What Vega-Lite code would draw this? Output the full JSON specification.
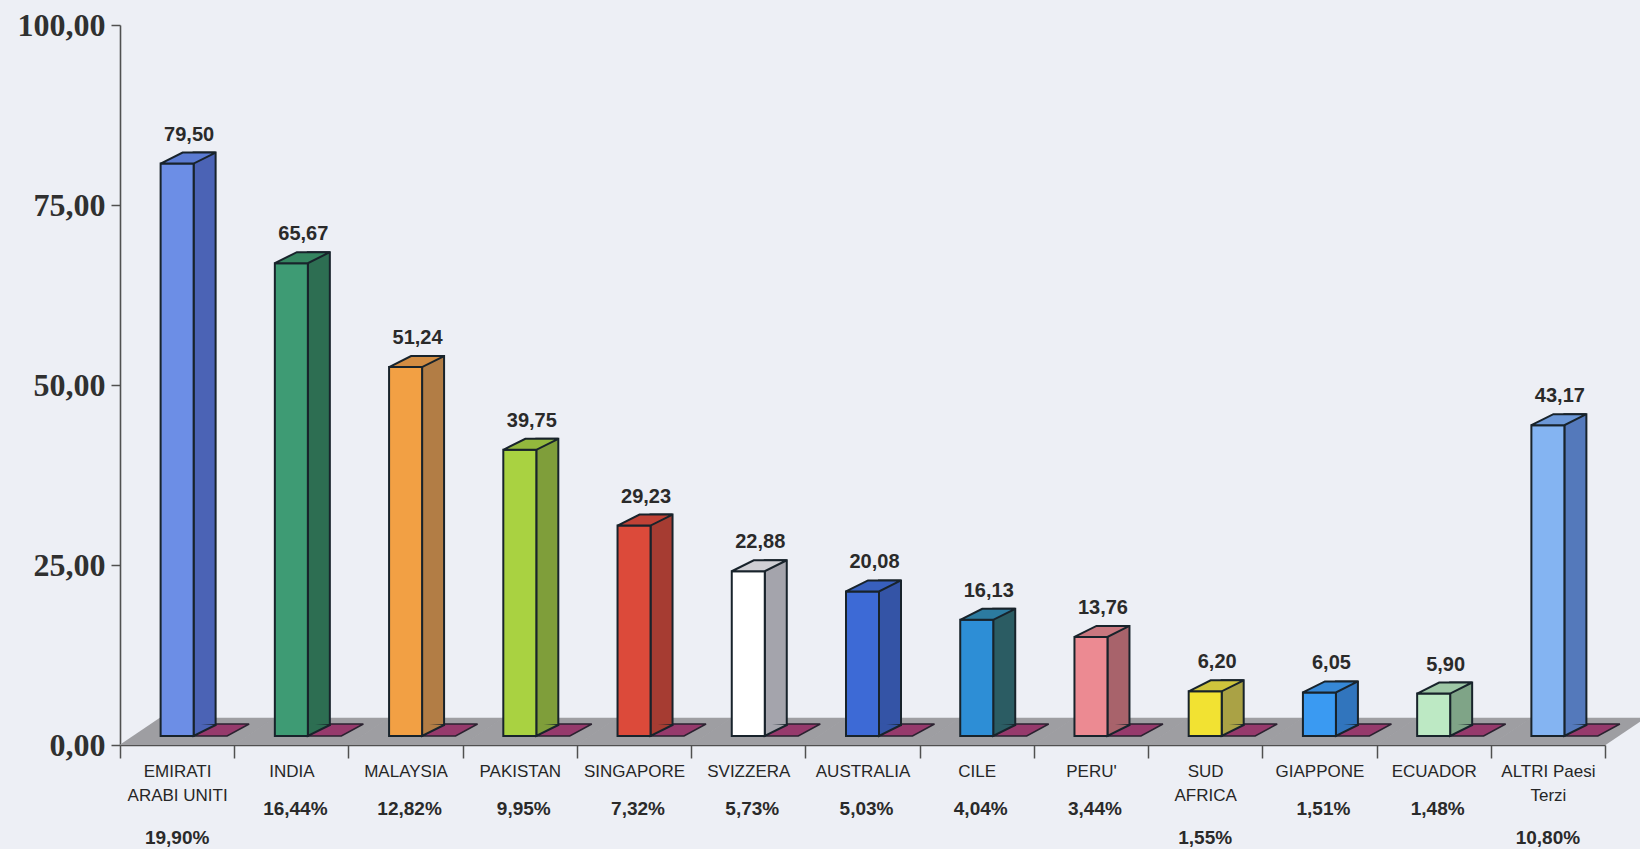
{
  "$schema": "https://vega.github.io/schema/vega-lite/v6.json",
  "width": 1485,
  "height": 720,
  "autosize": {"type": "none"},
  "padding": {"left": 120, "top": 25, "right": 35, "bottom": 104},
  "background": "#edeff5",
  "config": {
    "view": {"stroke": null},
    "axis": {"zindex": 1},
    "locale": {"number": {"decimal": ",", "thousands": ".", "grouping": [3], "currency": ["", " €"]}}
  },
  "data": {
    "values": [
      {"paese": "EMIRATI|ARABI UNITI", "valore": 79.50, "quota": 0.1990},
      {"paese": "INDIA", "valore": 65.67, "quota": 0.1644},
      {"paese": "MALAYSIA", "valore": 51.24, "quota": 0.1282},
      {"paese": "PAKISTAN", "valore": 39.75, "quota": 0.0995},
      {"paese": "SINGAPORE", "valore": 29.23, "quota": 0.0732},
      {"paese": "SVIZZERA", "valore": 22.88, "quota": 0.0573},
      {"paese": "AUSTRALIA", "valore": 20.08, "quota": 0.0503},
      {"paese": "CILE", "valore": 16.13, "quota": 0.0404},
      {"paese": "PERU'", "valore": 13.76, "quota": 0.0344},
      {"paese": "SUD|AFRICA", "valore": 6.20, "quota": 0.0155},
      {"paese": "GIAPPONE", "valore": 6.05, "quota": 0.0151},
      {"paese": "ECUADOR", "valore": 5.90, "quota": 0.0148},
      {"paese": "ALTRI Paesi|Terzi", "valore": 43.17, "quota": 0.1080}
    ]
  },
  "encoding": {
    "x": {
      "field": "paese",
      "type": "nominal",
      "sort": null,
      "scale": {"paddingInner": 0, "paddingOuter": 0},
      "axis": {
        "title": null,
        "labelExpr": "split(datum.label, '|')",
        "labelAngle": 0,
        "labelFont": "Liberation Sans",
        "labelFontSize": 17,
        "labelColor": "#262626",
        "labelLineHeight": 24,
        "labelPadding": 5,
        "labelBaseline": "top",
        "labelLimit": 300,
        "labelOverlap": false,
        "tickBand": "extent",
        "tickSize": 13,
        "tickColor": "#505050",
        "tickWidth": 1.5,
        "domainColor": "#505050",
        "domainWidth": 1.6
      }
    }
  },
  "layer": [
    {
      "mark": {"type": "point", "shape": "M-1,0L1,0L1.7,-0.4727L-0.3,-0.4727Z", "size": 13271, "filled": true, "fill": "#9e9ea2", "strokeWidth": 0, "opacity": 1},
      "encoding": {
        "y": {
          "datum": 0,
          "type": "quantitative",
          "scale": {"domain": [0, 100], "nice": false},
          "axis": {
            "title": null,
            "values": [0, 25, 50, 75, 100],
            "format": ".2f",
            "labelFont": "Liberation Serif",
            "labelFontWeight": "bold",
            "labelFontSize": 32,
            "labelColor": "#303030",
            "tickSize": 9,
            "labelPadding": 6,
            "tickColor": "#505050",
            "tickWidth": 1.5,
            "domainColor": "#505050",
            "domainWidth": 1.6,
            "grid": false
          }
        }
      }
    },
    {
      "mark": {"type": "point", "shape": "M0.5,0L1.389,0L2,-0.333L0.889,-0.333Z", "size": 5184, "filled": true, "fill": "#963a6c", "stroke": "#2b2230", "strokeWidth": 1.5, "opacity": 1, "yOffset": -9},
      "encoding": {"y": {"datum": 0, "type": "quantitative"}}
    },
    {
      "mark": {"type": "bar", "width": 22, "xOffset": 27.5, "yOffset": -20, "y2Offset": -20, "stroke": "#18232b", "strokeWidth": 2},
      "encoding": {
        "y": {"field": "valore", "type": "quantitative"},
        "y2": {"datum": 0},
        "fill": {
          "field": "paese", "type": "nominal", "legend": null,
          "scale": {
            "domain": ["EMIRATI|ARABI UNITI", "INDIA", "MALAYSIA", "PAKISTAN", "SINGAPORE", "SVIZZERA", "AUSTRALIA", "CILE", "PERU'", "SUD|AFRICA", "GIAPPONE", "ECUADOR", "ALTRI Paesi|Terzi"],
            "range": ["#4b63b5", "#2d6e52", "#b27d45", "#7f9e3a", "#a63c32", "#a4a4ac", "#3454a6", "#2b5c63", "#a8636b", "#aaa245", "#3175bd", "#7fa487", "#5479bb"]
          }
        }
      }
    },
    {
      "mark": {"type": "point", "shape": "M2.333,-0.667L1,0L1,-0.758", "size": 1089, "filled": true, "stroke": "#18232b", "strokeWidth": 2, "opacity": 1, "yOffset": -9},
      "encoding": {
        "y": {"datum": 0, "type": "quantitative"},
        "fill": {
          "field": "paese", "type": "nominal", "legend": null,
          "scale": {
            "domain": ["EMIRATI|ARABI UNITI", "INDIA", "MALAYSIA", "PAKISTAN", "SINGAPORE", "SVIZZERA", "AUSTRALIA", "CILE", "PERU'", "SUD|AFRICA", "GIAPPONE", "ECUADOR", "ALTRI Paesi|Terzi"],
            "range": ["#4b63b5", "#2d6e52", "#b27d45", "#7f9e3a", "#a63c32", "#a4a4ac", "#3454a6", "#2b5c63", "#a8636b", "#aaa245", "#3175bd", "#7fa487", "#5479bb"]
          }
        }
      }
    },
    {
      "mark": {"type": "bar", "width": 33, "yOffset": -9, "y2Offset": -9, "stroke": "#18232b", "strokeWidth": 2},
      "encoding": {
        "y": {"field": "valore", "type": "quantitative"},
        "y2": {"datum": 0},
        "fill": {
          "field": "paese", "type": "nominal", "legend": null,
          "scale": {
            "domain": ["EMIRATI|ARABI UNITI", "INDIA", "MALAYSIA", "PAKISTAN", "SINGAPORE", "SVIZZERA", "AUSTRALIA", "CILE", "PERU'", "SUD|AFRICA", "GIAPPONE", "ECUADOR", "ALTRI Paesi|Terzi"],
            "range": ["#6c8ee6", "#3e9b74", "#f2a044", "#a9d241", "#dc4a3a", "#ffffff", "#3d6ad6", "#2d8ed6", "#ec8a92", "#f2e232", "#3a9af2", "#bde9c4", "#84b4f2"]
          }
        }
      }
    },
    {
      "mark": {"type": "point", "shape": "M-1,0L1,0L2.333,-0.667L0.333,-0.667Z", "size": 1089, "filled": true, "stroke": "#18232b", "strokeWidth": 2, "opacity": 1, "yOffset": -9},
      "encoding": {
        "y": {"field": "valore", "type": "quantitative"},
        "fill": {
          "field": "paese", "type": "nominal", "legend": null,
          "scale": {
            "domain": ["EMIRATI|ARABI UNITI", "INDIA", "MALAYSIA", "PAKISTAN", "SINGAPORE", "SVIZZERA", "AUSTRALIA", "CILE", "PERU'", "SUD|AFRICA", "GIAPPONE", "ECUADOR", "ALTRI Paesi|Terzi"],
            "range": ["#5b7bd2", "#358560", "#d28c42", "#93b83d", "#c04236", "#cfcfd4", "#3860be", "#2c7ba0", "#c9777f", "#cfc43c", "#3688d6", "#9ec7a6", "#6c98d8"]
          }
        }
      }
    },
    {
      "mark": {"type": "text", "font": "Liberation Sans", "fontWeight": "bold", "fontSize": 20, "color": "#2a2a2a", "baseline": "alphabetic", "align": "center", "dx": 12, "dy": -32},
      "encoding": {
        "y": {"field": "valore", "type": "quantitative"},
        "text": {"field": "valore", "type": "quantitative", "format": ".2f"}
      }
    },
    {
      "transform": [{"filter": "indexof(datum.paese, '|') < 0"}],
      "mark": {"type": "text", "font": "Liberation Sans", "fontWeight": "bold", "fontSize": 19, "color": "#2a2a2a", "baseline": "alphabetic", "align": "center", "dx": 4, "dy": 70},
      "encoding": {
        "y": {"datum": 0, "type": "quantitative"},
        "text": {"field": "quota", "type": "quantitative", "format": ".2%"}
      }
    },
    {
      "transform": [{"filter": "indexof(datum.paese, '|') >= 0"}],
      "mark": {"type": "text", "font": "Liberation Sans", "fontWeight": "bold", "fontSize": 19, "color": "#2a2a2a", "baseline": "alphabetic", "align": "center", "dx": 0, "dy": 99},
      "encoding": {
        "y": {"datum": 0, "type": "quantitative"},
        "text": {"field": "quota", "type": "quantitative", "format": ".2%"}
      }
    }
  ],
  "resolve": {"scale": {"fill": "independent"}}
}
